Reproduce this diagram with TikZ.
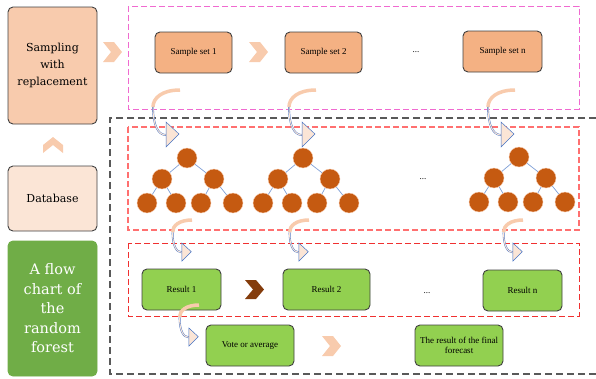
\documentclass[tikz,border=0pt]{standalone}
\usepackage{xcolor}
\usepackage{fontspec}
\setmainfont{Liberation Serif}
\newfontfamily\bigserif{DejaVu Serif}
\usepackage{tikz}
\usetikzlibrary{calc}
\usetikzlibrary{shapes}
\tikzset{>=latex}
\definecolor{peach}{HTML}{F8CBAD}
\definecolor{salmon}{HTML}{F4B183}
\definecolor{cream}{HTML}{FBE5D6}
\definecolor{leaf}{HTML}{92D050}
\definecolor{moss}{HTML}{70AD47}
\definecolor{rust}{HTML}{C55A11}
\definecolor{bark}{HTML}{843C0C}
\definecolor{sky}{HTML}{4472C4}
\definecolor{edgeblue}{HTML}{7F9FD6}
\definecolor{frame}{HTML}{404040}
\definecolor{pinkline}{HTML}{F06AD0}
\definecolor{lightred}{HTML}{FF7070}
\definecolor{redline}{HTML}{F03030}
\definecolor{grayline}{HTML}{595959}
\tikzstyle{box} = [rectangle, rounded corners = 5, draw = frame, line width = .9, align = center, inner sep = 1, font = \fontsize{9}{10.5}\selectfont]
\tikzstyle{bigbox} = [box, minimum width = 89, font = \bigserif\fontsize{11}{17}\selectfont]
\tikzstyle{leafnode} = [circle, fill = rust, draw = peach, line width = .4, minimum size = 20, inner sep = 0]
\tikzstyle{branch} = [-, draw = edgeblue, line width = .7]
\tikzstyle{zone} = [line width = .9, dash pattern = on 6 off 3]
\tikzset{bendarrow/.pic = {
  \draw [peach, line width = 3.5] (0,0) .. controls (-18,0) and (-27,8) .. (-27,17);
  \draw [sky, line width = .4, double = cream, double distance = 1] (-27,17) .. controls (-27,35) and (-22,45) .. (-14,45);
  \draw [sky, line width = .5, fill = cream] (-14,32) -- (-1,44) -- (-14,57) -- cycle;
}}

\begin{document}
\begin{tikzpicture}[x = 1pt, y = -1pt]
\useasboundingbox (0,0) rectangle (596,378);
% frames
\draw [zone, pinkline] (128,6) rectangle (579,109);
\draw [zone, grayline, line width = 1.2, dash pattern = on 7 off 4] (596,118) -- (110,118) -- (110,374) -- (596,374);
\draw [zone, lightred, line width = 1.1] (128,127) rectangle (579,230);
\draw [zone, redline] (128,243) rectangle (579,316);

% left column
\node [bigbox, fill = peach, minimum height = 117] (samp) at (52.5,65.5) {Sampling\\with\\replacement};
\node [bigbox, fill = cream, minimum height = 65] (db) at (52.5,198.5) {Database};
\node [bigbox, fill = moss, draw = moss, minimum height = 135, text = white, font = \bigserif\fontsize{14.5}{19.5}\selectfont] (title) at (52.5,308.5) {A flow\\chart of\\the\\random\\forest};
\fill [peach] (43,153) -- (43,145) -- (53,137) -- (63,145) -- (63,153) -- (53,145) -- cycle;

% sample sets
\node [box, fill = salmon, minimum width = 77, minimum height = 41] (set1) at (193.5,52.5) {Sample set 1};
\node [box, fill = salmon, minimum width = 77, minimum height = 41] (set2) at (323.5,52.5) {Sample set 2};
\node [draw = none, font = \small] (dots1) at (416,52) {...};
\node [box, fill = salmon, minimum width = 79, minimum height = 41] (setn) at (502.5,51.5) {Sample set n};

% chevrons
\foreach \cx/\cy in {103/42, 249/42, 322/336} {
  \fill [peach] (\cx,\cy) -- (\cx+11,\cy) -- (\cx+19,\cy+10) -- (\cx+11,\cy+20) -- (\cx,\cy+20) -- (\cx+8,\cy+10) -- cycle;
}
\fill [bark] (245,280) -- (256,280) -- (264,289.5) -- (256,299) -- (245,299) -- (253,289.5) -- cycle;

% trees
\foreach \cx/\cy [count=\i] in {187/158, 303/158, 519/157} {
  \node [leafnode] (t\i0) at (\cx,\cy) {};
  \node [leafnode] (t\i1) at (\cx-25,\cy+21) {};
  \node [leafnode] (t\i2) at (\cx+27,\cy+21) {};
  \node [leafnode] (t\i3) at (\cx-40,\cy+45) {};
  \node [leafnode] (t\i4) at (\cx-11,\cy+45) {};
  \node [leafnode] (t\i5) at (\cx+14,\cy+45) {};
  \node [leafnode] (t\i6) at (\cx+46,\cy+45) {};
  \draw [branch] (t\i0) to (t\i1);
  \draw [branch] (t\i0) to (t\i2);
  \draw [branch] (t\i1) to (t\i3);
  \draw [branch] (t\i1) to (t\i4);
  \draw [branch] (t\i2) to (t\i5);
  \draw [branch] (t\i2) to (t\i6);
}
\node [draw = none, font = \small] (dots2) at (423,179) {...};

% results
\node [box, fill = leaf, minimum width = 79, minimum height = 41] (res1) at (181.5,289.5) {Result 1};
\node [box, fill = leaf, minimum width = 87, minimum height = 41] (res2) at (326.5,289.5) {Result 2};
\node [draw = none, font = \small] (dots3) at (427,293) {...};
\node [box, fill = leaf, minimum width = 79, minimum height = 41] (resn) at (522.5,290.5) {Result n};
\node [box, fill = leaf, minimum width = 88, minimum height = 41] (vote) at (250,345.5) {Vote or average};
\node [box, fill = leaf, minimum width = 88, minimum height = 41] (final) at (459,345.5) {The result of the final\\forecast};

% bent arrows
\foreach \sx in {180, 316, 515} {
  \pic at (\sx,90) {bendarrow};
}
\foreach \sx/\sy in {192/220, 309/220, 523/220, 199/305} {
  \pic [scale = .72] at (\sx,\sy) {bendarrow};
}
\end{tikzpicture}
\end{document}
